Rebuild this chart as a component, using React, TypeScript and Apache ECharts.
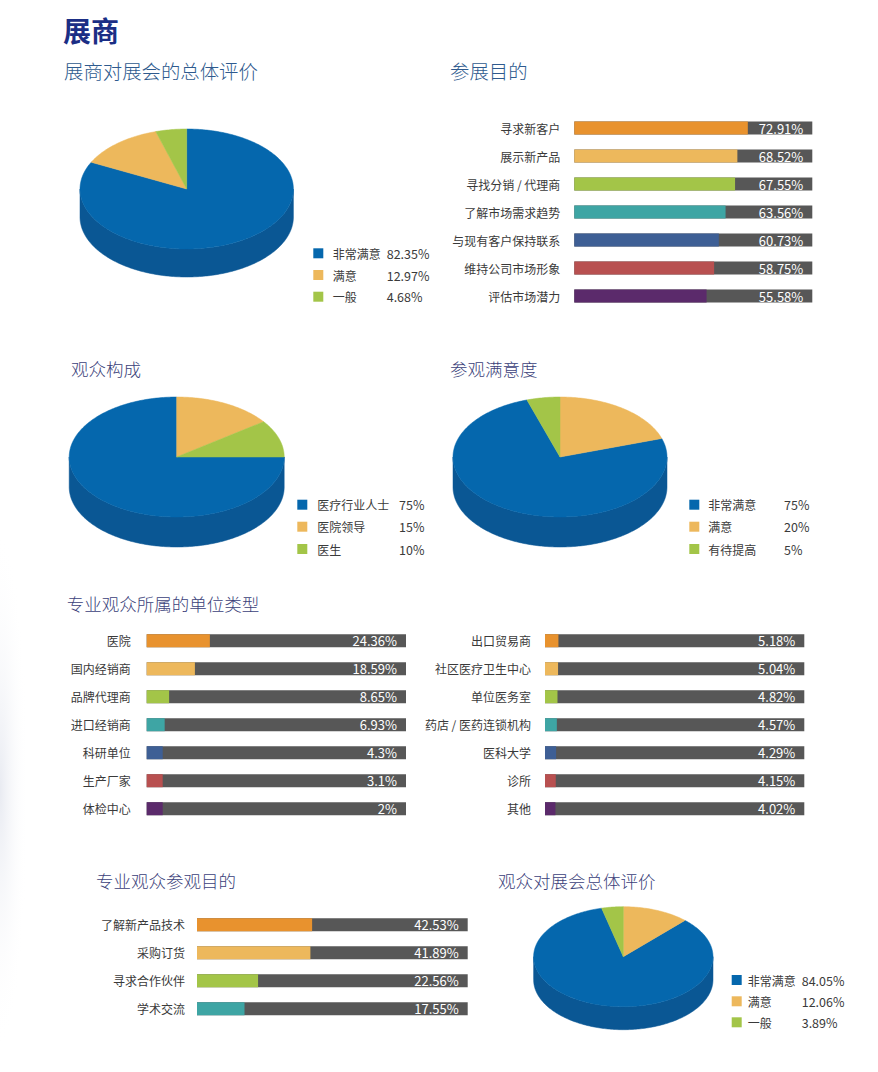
import React, { useEffect, useRef } from "react";
import * as echarts from "echarts";

// ---------- DATA ----------
const pieColors = ["#0567AD", "#EDB85C", "#A3C548"];
const pieSideColors = ["#0A5794", "#C99A48", "#86A53A"];

const pie1Names = ["非常满意", "满意", "一般"];
const pie1Values = [82.35, 12.97, 4.68];
const pie1Order = [0, 1, 2];

const pie2Names = ["医疗行业人士", "医院领导", "医生"];
const pie2Values = [75, 15, 10];
const pie2Order = [1, 2, 0];

const pie3Names = ["非常满意", "满意", "有待提高"];
const pie3Values = [75, 20, 5];
const pie3Order = [1, 0, 2];

const pie4Names = ["非常满意", "满意", "一般"];
const pie4Values = [84.05, 12.06, 3.89];
const pie4Order = [1, 0, 2];

const barPalette = ["#E8922E", "#EDB85C", "#A3C548", "#3EA5A4", "#3E5F95", "#B85050", "#5B2A6B"];
const barTrack = "#575757";
const FULL = 100;

const purposeCats = ["寻求新客户", "展示新产品", "寻找分销 / 代理商", "了解市场需求趋势", "与现有客户保持联系", "维持公司市场形象", "评估市场潜力"];
const purposeVals = [72.91, 68.52, 67.55, 63.56, 60.73, 58.75, 55.58];

const unitCatsL = ["医院", "国内经销商", "品牌代理商", "进口经销商", "科研单位", "生产厂家", "体检中心"];
const unitValsL = [24.36, 18.59, 8.65, 6.93, 4.3, 3.1, 2];

const unitCatsR = ["出口贸易商", "社区医疗卫生中心", "单位医务室", "药店 / 医药连锁机构", "医科大学", "诊所", "其他"];
const unitValsR = [5.18, 5.04, 4.82, 4.57, 4.29, 4.15, 4.02];

const visitCats = ["了解新产品技术", "采购订货", "寻求合作伙伴", "学术交流"];
const visitVals = [42.53, 41.89, 22.56, 17.55];

// ---------- HELPERS ----------
const FONT = '"Noto Sans CJK SC", "Noto Sans", sans-serif';

function fmtPct(v: number) {
  return v + "%";
}

function makePie(names: string[], values: number[], order: number[], cx: number, cy: number, rx: number, ry: number, depth: number) {
  const total = values.reduce((a, b) => a + b, 0);
  const start: number[] = [];
  let acc = 0;
  order.forEach((i) => {
    start[i] = acc;
    acc += (values[i] / total) * 360;
  });
  const pt = (deg: number, dy: number) => {
    const r = (deg * Math.PI) / 180;
    return [cx + rx * Math.sin(r), cy + dy - ry * Math.cos(r)];
  };
  const arc = (a: number, b: number, dy: number) => {
    const pts: number[][] = [];
    const n = Math.max(2, Math.ceil((b - a) / 1));
    for (let k = 0; k <= n; k++) pts.push(pt(a + ((b - a) * k) / n, dy));
    return pts;
  };
  return {
    type: "custom",
    coordinateSystem: "none",
    silent: true,
    data: names.map((n, i) => ({ name: n, value: values[i] })),
    renderItem: (params: any, api: any) => {
      const i = params.dataIndex;
      const s = start[i];
      const e = s + (api.value(0) / total) * 360;
      const children: any[] = [];
      const a = Math.max(s, 90);
      const b = Math.min(e, 270);
      if (a < b) {
        const top = arc(a, b, 0);
        const bottom = arc(a, b, depth).reverse();
        children.push({
          type: "polygon",
          shape: { points: top.concat(bottom) },
          style: { fill: pieSideColors[i], stroke: pieSideColors[i], lineWidth: 0.5 },
        });
      }
      children.push({
        type: "polygon",
        shape: { points: [[cx, cy]].concat(arc(s, e, 0)) },
        style: { fill: pieColors[i], stroke: pieColors[i], lineWidth: 0.5 },
      });
      return { type: "group", children };
    },
  };
}

function legendGraphics(names: string[], values: number[], sqX: number, ys: number[], labelX: number, valueX: number) {
  const out: any[] = [];
  names.forEach((n, i) => {
    out.push({ type: "rect", shape: { x: sqX, y: ys[i] - 5, width: 10, height: 10 }, style: { fill: pieColors[i] } });
    out.push({ type: "text", x: labelX, y: ys[i], style: { text: n, fill: "#3a3a3a", font: `12px ${FONT}`, verticalAlign: "middle", align: "left" } });
    out.push({ type: "text", x: valueX, y: ys[i], style: { text: fmtPct(values[i]), fill: "#3a3a3a", font: `12.5px ${FONT}`, verticalAlign: "middle", align: "left" } });
  });
  return out;
}

function titleText(text: string, x: number, y: number, size: number, color: string, weight = "300") {
  return { type: "text", x, y, style: { text, fill: color, font: `${weight} ${size}px ${FONT}`, verticalAlign: "middle", align: "left" } };
}

function barPair(idx: number, vals: number[], minH: number) {
  return [
    {
      type: "bar",
      xAxisIndex: idx,
      yAxisIndex: idx,
      barWidth: 13,
      barGap: "-100%",
      silent: true,
      data: vals.map(() => FULL),
      itemStyle: { color: barTrack },
      label: {
        show: true,
        position: "insideRight",
        distance: 9,
        color: "#ffffff",
        fontSize: 13,
        fontFamily: FONT,
        formatter: (p: any) => fmtPct(vals[p.dataIndex]),
      },
      z: 2,
    },
    {
      type: "bar",
      xAxisIndex: idx,
      yAxisIndex: idx,
      barWidth: 13,
      barGap: "-100%",
      barMinHeight: minH,
      silent: true,
      data: vals,
      itemStyle: { color: (p: any) => barPalette[p.dataIndex % barPalette.length] },
      z: 3,
    },
  ];
}

function yAxisFor(idx: number, cats: string[], margin: number) {
  return {
    type: "category",
    gridIndex: idx,
    data: cats,
    inverse: true,
    axisLine: { show: false },
    axisTick: { show: false },
    splitLine: { show: false },
    axisLabel: { color: "#3a3a3a", fontSize: 12, fontFamily: FONT, margin },
  };
}

function xAxisFor(idx: number) {
  return { type: "value", gridIndex: idx, min: 0, max: FULL, show: false };
}

export default function App() {
  const ref = useRef<HTMLDivElement>(null);
  useEffect(() => {
    if (!ref.current) return;
    const chart = echarts.init(ref.current, undefined, { renderer: "svg" });
    const subColor = "#2E5A8E";
    const sub2Color = "#3B3F7A";
    const option: any = {
      animation: false,
      backgroundColor: "#ffffff",
      grid: [
        { left: 574.3, top: 114, width: 238, height: 196, containLabel: false },
        { left: 146.7, top: 626.7, width: 259.3, height: 196, containLabel: false },
        { left: 545, top: 626.7, width: 259.3, height: 196, containLabel: false },
        { left: 197, top: 910.7, width: 270.7, height: 112, containLabel: false },
      ],
      xAxis: [xAxisFor(0), xAxisFor(1), xAxisFor(2), xAxisFor(3)],
      yAxis: [
        yAxisFor(0, purposeCats, 14),
        yAxisFor(1, unitCatsL, 16),
        yAxisFor(2, unitCatsR, 14),
        yAxisFor(3, visitCats, 12),
      ],
      series: [
        ...barPair(0, purposeVals, 0),
        ...barPair(1, unitValsL, 16),
        ...barPair(2, unitValsR, 0),
        ...barPair(3, visitVals, 0),
        makePie(pie1Names, pie1Values, pie1Order, 186.7, 189, 106.7, 60, 28),
        makePie(pie2Names, pie2Values, pie2Order, 176.7, 457, 107.5, 60, 30),
        makePie(pie3Names, pie3Values, pie3Order, 560, 457, 107, 60, 30),
        makePie(pie4Names, pie4Values, pie4Order, 623.3, 956.7, 89.7, 50, 23),
      ],
      graphic: [
        {
          type: "ellipse",
          shape: { cx: 0, cy: 790, rx: 28, ry: 260 },
          style: {
            fill: new echarts.graphic.RadialGradient(0.5, 0.5, 0.5, [
              { offset: 0, color: "rgba(205,210,225,0.45)" },
              { offset: 1, color: "rgba(255,255,255,0)" },
            ]),
          },
          silent: true,
          z: -10,
        },
        titleText("展商", 63, 30, 28, "#1B2E85", "bold"),
        titleText("展商对展会的总体评价", 64, 70, 19.4, subColor),
        titleText("参展目的", 450, 70, 19.4, subColor),
        titleText("观众构成", 71, 368, 17.5, sub2Color),
        titleText("参观满意度", 450, 368, 17.5, sub2Color),
        titleText("专业观众所属的单位类型", 66.7, 603, 17.5, sub2Color),
        titleText("专业观众参观目的", 96, 880, 17.5, sub2Color),
        titleText("观众对展会总体评价", 498, 880, 17.5, sub2Color),
        ...legendGraphics(pie1Names, pie1Values, 313.3, [253.3, 275, 296.7], 332.7, 386.7),
        ...legendGraphics(pie2Names, pie2Values, 297.3, [504.7, 526.7, 549], 317.3, 399),
        ...legendGraphics(pie3Names, pie3Values, 689.3, [504.7, 526.7, 549], 708.3, 784),
        ...legendGraphics(pie4Names, pie4Values, 731.7, [980, 1001.3, 1022.3], 747.7, 801.7),
      ],
    };
    chart.setOption(option);
    return () => chart.dispose();
  }, []);
  return (
    <div
      ref={ref}
      style={{ position: "absolute", left: 0, top: 0, width: 878, height: 1072, background: "#fff" }}
    />
  );
}
